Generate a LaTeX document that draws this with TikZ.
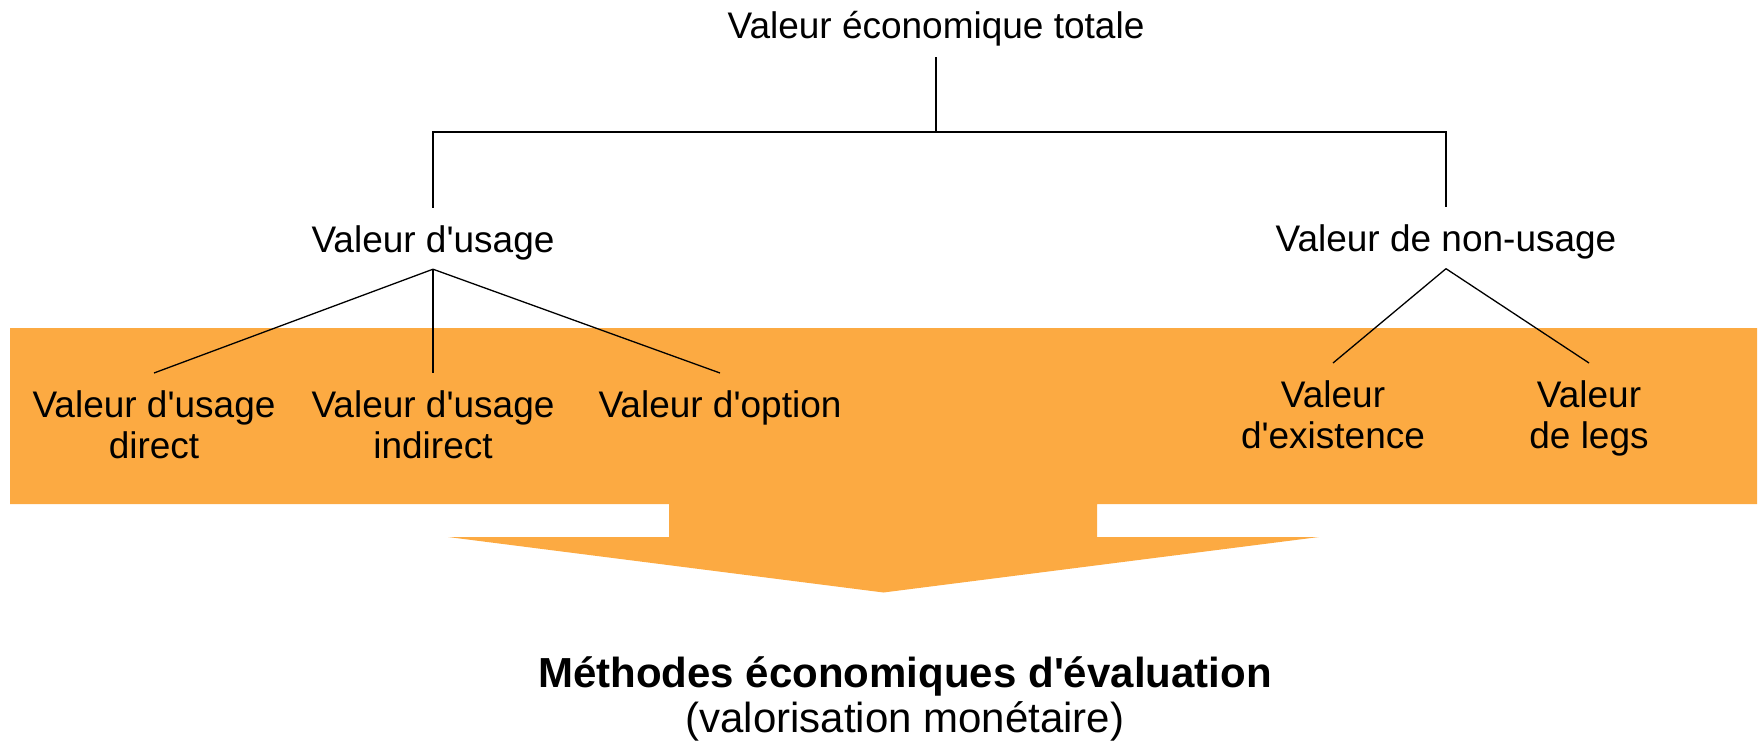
\documentclass[tikz,border=0pt]{standalone}
\usepackage{fontspec}
\setmainfont{Liberation Sans}[Ligatures=TeXOff]
\definecolor{boxorange}{RGB}{252,170,66}
\begin{document}
\begin{tikzpicture}[x=1pt,y=-1pt,
  treetext/.style={font=\fontsize{37}{41.5}\selectfont, inner xsep=0pt, inner ysep=17pt},
  single/.style={treetext, text height=27pt, text depth=0pt, anchor=base},
  multi/.style={treetext, align=center, anchor=north},
  conn/.style={draw=black, line width=1.3pt}]
\useasboundingbox (0,0) rectangle (1759,741);
% orange band and arrow
\fill[boxorange] (10,328) -- (1757,328) -- (1757,504) -- (1097,504) -- (1097,537) -- (1319,537)
  -- (883.5,592.5) -- (448,537) -- (669,537) -- (669,504) -- (10,504) -- cycle;
% nodes
\node[single, inner ysep=18pt] (root) at (936,39) {Valeur économique totale};
\node[single] (vu) at (433,252) {Valeur d'usage};
\node[single] (vnu) at (1446,251.5) {Valeur de non-usage};
\node[multi] (vud) at (154,373) {Valeur d'usage\\direct};
\node[multi] (vui) at (433,373) {Valeur d'usage\\indirect};
\node[multi] (vo) at (720,373) {Valeur d'option};
\node[multi] (ve) at (1333,363) {Valeur\\d'existence};
\node[multi] (vl) at (1589,363) {Valeur\\de legs};
\node[anchor=base, inner sep=0pt, font=\fontsize{42}{45}\selectfont\bfseries] (meth) at (905,687) {Méthodes économiques d'évaluation};
\node[anchor=base, inner sep=0pt, font=\fontsize{42}{45}\selectfont] (valo) at (905,732) {(valorisation monétaire)};
% connectors
\coordinate (bus) at (0,132);
\draw[conn] (root.south) -- (root.south |- bus);
\draw[conn] (vu.north) -- (vu.north |- bus) -- (vnu.north |- bus) -- (vnu.north);
\draw[conn] (vu.south) -- (vud.north);
\draw[conn] (vu.south) -- (vui.north);
\draw[conn] (vu.south) -- (vo.north);
\draw[conn] (vnu.south) -- (ve.north);
\draw[conn] (vnu.south) -- (vl.north);
\end{tikzpicture}
\end{document}
